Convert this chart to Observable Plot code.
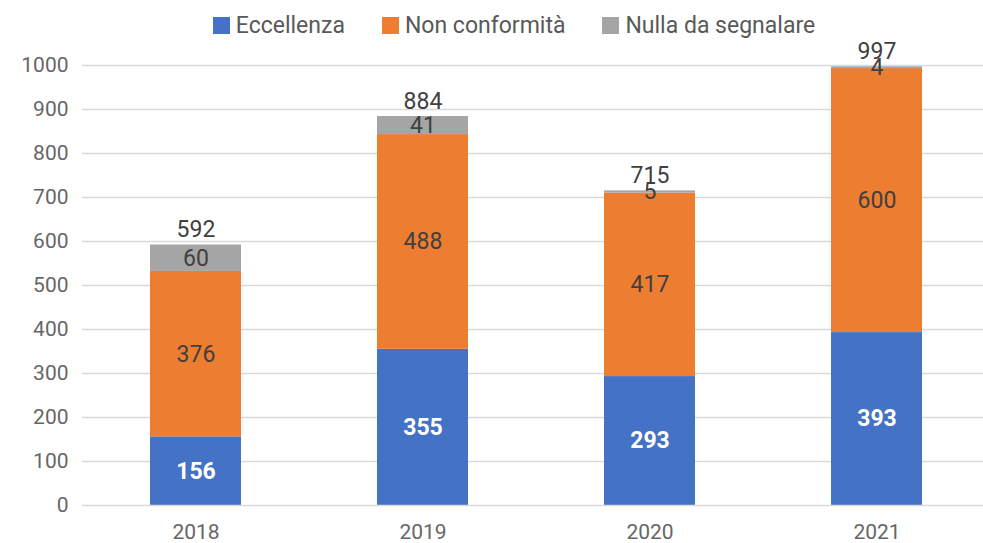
<!DOCTYPE html>
<html><head><meta charset="utf-8">
<script src="https://cdn.jsdelivr.net/npm/d3@7"></script>
<script src="https://cdn.jsdelivr.net/npm/@observablehq/plot@0.6"></script>
<style>
body{margin:0;background:#fff;font-family:Roboto,sans-serif;position:relative;}
#legend{position:absolute;left:0;top:0;width:983px;height:50px;display:flex;justify-content:center;align-items:center;gap:37px;font-size:23px;color:#595959;padding-left:45px;box-sizing:border-box;}
#legend span.sw{display:inline-block;width:17px;height:17px;margin-right:6px;vertical-align:-1px;}
</style></head>
<body><div id="chart"></div><div id="legend"></div>
<script>
const years = ["2018","2019","2020","2021"];
const seriesNames = ["Eccellenza","Non conformità","Nulla da segnalare"];
const eccellenza = [156,355,293,393];
const nonConformita = [376,488,417,600];
const nulla = [60,41,5,4];
const totals = [592,884,715,997];
const colors = ["#4472C4","#ED7D31","#A5A5A5"];
const yTicks = [0,100,200,300,400,500,600,700,800,900,1000];

const seriesVals = [eccellenza, nonConformita, nulla];
const data = [];
seriesNames.forEach((s,i)=>years.forEach((y,j)=>data.push({year:y, series:s, value:seriesVals[i][j]})));
const totalData = years.map((y,j)=>({year:y,total:totals[j]}));

const leg = document.getElementById("legend");
seriesNames.forEach((s,i)=>{
  const d=document.createElement("div");
  d.innerHTML=`<span class="sw" style="background:${colors[i]}"></span>${s}`;
  leg.appendChild(d);
});

const stackOpts = {x:"year", y:"value", z:"series"};
const chart = Plot.plot({
  width:983, height:543,
  marginTop:65, marginBottom:38, marginLeft:82, marginRight:0,
  style:{fontFamily:"Roboto, sans-serif", fontSize:"21px", color:"#666", background:"#fff"},
  x:{domain:years, range:[82,990], paddingInner:0.6, paddingOuter:0.3, label:null},
  y:{domain:[0,1000], label:null},
  color:{domain:seriesNames, range:colors},
  marks:[
    Plot.ruleY(yTicks.filter(t=>t>0), {stroke:"#d9d9d9", strokeWidth:1.5}),
    Plot.barY(data, Plot.stackY({...stackOpts, fill:"series"})),
    Plot.ruleY([0], {stroke:"#d9d9d9", strokeWidth:1.5}),
    Plot.axisY(yTicks, {tickSize:0, tickPadding:14, tickFormat:d=>String(d), fontSize:21, fill:"#666", label:null}),
    Plot.axisX({tickSize:0, tickPadding:19, fontSize:21, fill:"#666", label:null}),
    Plot.text(data, Plot.stackY({...stackOpts, text:d=>d.series===seriesNames[0]?String(d.value):"", fill:"#fff", fontWeight:"bold", fontSize:23})),
    Plot.text(data, Plot.stackY({...stackOpts, text:d=>d.series!==seriesNames[0]?String(d.value):"", fill:"#404040", fontSize:23})),
    Plot.text(totalData, {x:"year", y:"total", text:d=>String(d.total), dy:-15, fill:"#404040", fontSize:23}),
  ]
});
document.getElementById("chart").appendChild(chart);
</script></body></html>
